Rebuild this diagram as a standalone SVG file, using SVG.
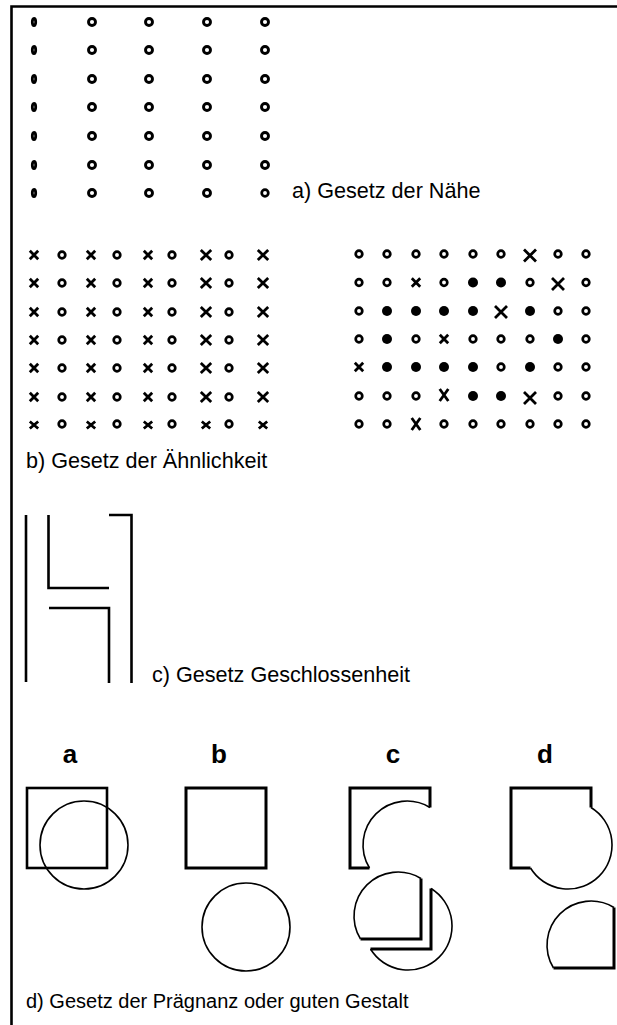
<svg xmlns="http://www.w3.org/2000/svg" width="617" height="1025" viewBox="0 0 617 1025">
<style>
.t{font-family:"Liberation Sans",Arial,sans-serif;font-size:21.6px;fill:#000}
.t2{font-family:"Liberation Sans",Arial,sans-serif;font-size:20px;fill:#000}
.l{font-family:"Liberation Sans",Arial,sans-serif;font-size:26px;font-weight:bold;fill:#000;text-anchor:middle}
.ln{fill:none;stroke:#000;stroke-width:2.6}
.ln3{fill:none;stroke:#000;stroke-width:3}
.arc{fill:none;stroke:#000;stroke-width:1.6}
</style>
<defs>
<circle id="o" r="3.5" fill="none" stroke="#000" stroke-width="2.9"/>
<circle id="os" r="3.3" fill="none" stroke="#000" stroke-width="2.7"/>
<ellipse id="o0" rx="1.7" ry="3.7" fill="none" stroke="#000" stroke-width="2.8"/>
<circle id="dot" r="5" fill="#000"/>
<path id="xs" d="M-4.2,-4.2L4.2,4.2M4.2,-4.2L-4.2,4.2" fill="none" stroke="#000" stroke-width="2.8"/>
<path id="xf" d="M-4.2,-3.5L4.2,3.5M4.2,-3.5L-4.2,3.5" fill="none" stroke="#000" stroke-width="2.8"/>
<path id="xm" d="M-5.2,-5L5.2,5M5.2,-5L-5.2,5" fill="none" stroke="#000" stroke-width="2.8"/>
<path id="xt" d="M-4.3,-6L4.3,6M4.3,-6L-4.3,6" fill="none" stroke="#000" stroke-width="2.8"/>
<path id="xl" d="M-6,-6L6,6M6,-6L-6,6" fill="none" stroke="#000" stroke-width="2.8"/>
</defs>

<g id="frame">
<path d="M11.5 1025V6.5H617" class="ln"/>
</g>

<g id="section-a">
<use href="#o0" x="34" y="22"/><use href="#o" x="92" y="22"/><use href="#o" x="149" y="22"/><use href="#o" x="207" y="22"/><use href="#o" x="265" y="22"/>
<use href="#o0" x="34" y="50"/><use href="#o" x="92" y="50"/><use href="#o" x="149" y="50"/><use href="#o" x="207" y="50"/><use href="#o" x="265" y="50"/>
<use href="#o0" x="34" y="79"/><use href="#o" x="92" y="79"/><use href="#o" x="149" y="79"/><use href="#o" x="207" y="79"/><use href="#o" x="265" y="79"/>
<use href="#o0" x="34" y="107"/><use href="#o" x="92" y="107"/><use href="#o" x="149" y="107"/><use href="#o" x="207" y="107"/><use href="#o" x="265" y="107"/>
<use href="#o0" x="34" y="136"/><use href="#o" x="92" y="136"/><use href="#o" x="149" y="136"/><use href="#o" x="207" y="136"/><use href="#o" x="265" y="136"/>
<use href="#o0" x="34" y="165"/><use href="#o" x="92" y="165"/><use href="#o" x="149" y="165"/><use href="#o" x="207" y="165"/><use href="#o" x="265" y="165"/>
<use href="#o0" x="34" y="193"/><use href="#o" x="92" y="193"/><use href="#o" x="149" y="193"/><use href="#o" x="207" y="193"/><use href="#os" x="265" y="193"/>
<text class="t" x="292" y="198">a) Gesetz der Nähe</text>
</g>

<g id="section-b-left">
<g id="bl-r1"><use href="#xs" x="34" y="255"/><use href="#os" x="62" y="255"/><use href="#xs" x="91" y="255"/><use href="#os" x="117" y="255"/><use href="#xs" x="148" y="255"/><use href="#os" x="172" y="255"/><use href="#xm" x="206" y="255"/><use href="#os" x="229" y="255"/><use href="#xm" x="263" y="255"/></g>
<g id="bl-r2"><use href="#xs" x="34" y="283"/><use href="#os" x="62" y="283"/><use href="#xs" x="91" y="283"/><use href="#os" x="117" y="283"/><use href="#xs" x="148" y="283"/><use href="#os" x="172" y="283"/><use href="#xm" x="206" y="283"/><use href="#os" x="229" y="283"/><use href="#xm" x="263" y="283"/></g>
<g id="bl-r3"><use href="#xs" x="34" y="312"/><use href="#os" x="62" y="312"/><use href="#xs" x="91" y="312"/><use href="#os" x="117" y="312"/><use href="#xs" x="148" y="312"/><use href="#os" x="172" y="312"/><use href="#xm" x="206" y="312"/><use href="#os" x="229" y="312"/><use href="#xm" x="263" y="312"/></g>
<g id="bl-r4"><use href="#xs" x="34" y="340"/><use href="#os" x="62" y="340"/><use href="#xs" x="91" y="340"/><use href="#os" x="117" y="340"/><use href="#xs" x="148" y="340"/><use href="#os" x="172" y="340"/><use href="#xm" x="206" y="340"/><use href="#os" x="229" y="340"/><use href="#xm" x="263" y="340"/></g>
<g id="bl-r5"><use href="#xs" x="34" y="368"/><use href="#os" x="62" y="368"/><use href="#xs" x="91" y="368"/><use href="#os" x="117" y="368"/><use href="#xs" x="148" y="368"/><use href="#os" x="172" y="368"/><use href="#xm" x="206" y="368"/><use href="#os" x="229" y="368"/><use href="#xm" x="263" y="368"/></g>
<g id="bl-r6"><use href="#xs" x="34" y="397"/><use href="#os" x="62" y="397"/><use href="#xs" x="91" y="397"/><use href="#os" x="117" y="397"/><use href="#xs" x="148" y="397"/><use href="#os" x="172" y="397"/><use href="#xm" x="206" y="397"/><use href="#os" x="229" y="397"/><use href="#xm" x="263" y="397"/></g>
<g id="bl-r7"><use href="#xf" x="34" y="425"/><use href="#os" x="62" y="424"/><use href="#xf" x="91" y="425"/><use href="#os" x="117" y="424"/><use href="#xf" x="148" y="425"/><use href="#os" x="172" y="424"/><use href="#xf" x="206" y="425"/><use href="#os" x="229" y="424"/><use href="#xf" x="263" y="425"/></g>
<text class="t" x="26" y="468">b) Gesetz der Ähnlichkeit</text>
</g>

<g id="section-b-right">
<g id="br-r1"><use href="#os" x="359" y="254"/><use href="#os" x="387" y="254"/><use href="#os" x="416" y="254"/><use href="#os" x="444" y="254"/><use href="#os" x="473" y="254"/><use href="#os" x="501" y="254"/><use href="#xl" x="530" y="255.5"/><use href="#os" x="558" y="254"/><use href="#os" x="586" y="254"/></g>
<g id="br-r2"><use href="#os" x="359" y="282.5"/><use href="#os" x="387" y="282.5"/><use href="#xs" x="416" y="282.5"/><use href="#os" x="444" y="282.5"/><use href="#dot" x="473" y="282.5"/><use href="#dot" x="501" y="282.5"/><use href="#os" x="530" y="282.5"/><use href="#xl" x="558" y="284"/><use href="#os" x="586" y="282.5"/></g>
<g id="br-r3"><use href="#os" x="359" y="311"/><use href="#dot" x="387" y="311"/><use href="#dot" x="416" y="311"/><use href="#dot" x="444" y="311"/><use href="#dot" x="473" y="311"/><use href="#xl" x="501" y="312"/><use href="#dot" x="530" y="311"/><use href="#os" x="558" y="311"/><use href="#os" x="586" y="311"/></g>
<g id="br-r4"><use href="#os" x="359" y="339"/><use href="#dot" x="387" y="339"/><use href="#os" x="416" y="339"/><use href="#xs" x="444" y="339"/><use href="#os" x="473" y="339"/><use href="#os" x="501" y="339"/><use href="#os" x="530" y="339"/><use href="#dot" x="558" y="339"/><use href="#os" x="586" y="339"/></g>
<g id="br-r5"><use href="#xs" x="359" y="367"/><use href="#dot" x="387" y="367"/><use href="#dot" x="416" y="367"/><use href="#dot" x="444" y="367"/><use href="#dot" x="473" y="367"/><use href="#os" x="501" y="367"/><use href="#dot" x="530" y="367"/><use href="#os" x="558" y="367"/><use href="#os" x="586" y="367"/></g>
<g id="br-r6"><use href="#os" x="359" y="396"/><use href="#os" x="387" y="396"/><use href="#os" x="416" y="396"/><use href="#xt" x="444" y="395"/><use href="#dot" x="473" y="396"/><use href="#dot" x="501" y="396"/><use href="#xl" x="530" y="398"/><use href="#os" x="558" y="396"/><use href="#os" x="586" y="396"/></g>
<g id="br-r7"><use href="#os" x="359" y="424"/><use href="#os" x="387" y="424"/><use href="#xt" x="416" y="424"/><use href="#os" x="444" y="424"/><use href="#os" x="473" y="424"/><use href="#os" x="501" y="424"/><use href="#os" x="530" y="424"/><use href="#os" x="558" y="424"/><use href="#os" x="586" y="424"/></g>
</g>

<g id="section-c">
<path d="M26 515V682" class="ln"/>
<path d="M48.5 515V588H109" class="ln"/>
<path d="M49 608H109V683" class="ln"/>
<path d="M109 515H131.5V683" class="ln"/>
<text class="t" x="152" y="682">c) Gesetz Geschlossenheit</text>
</g>

<g id="section-d">
<g id="fig-a">
<text class="l" x="70" y="763">a</text>
<rect x="27" y="788" width="80" height="80" class="ln"/>
<circle cx="84" cy="845" r="44" class="arc"/>
</g>
<g id="fig-b">
<text class="l" x="219" y="763">b</text>
<rect x="186" y="788" width="80" height="80" class="ln3"/>
<circle cx="246" cy="927" r="44" class="arc"/>
</g>
<g id="fig-c">
<text class="l" x="393" y="763">c</text>
<path d="M430 807.5V788H350V868H369.5" class="ln3"/>
<path d="M369.5 868A44 44 0 0 1 430 807.5" class="arc"/>
<path d="M421 878.5V939H360.5" class="ln3"/>
<path d="M360.5 939A44 44 0 0 1 421 878.5" class="arc"/>
<path d="M431 888.5V949H370.5" class="ln3"/>
<path d="M431 888.5A44 44 0 1 1 370.5 949" class="arc"/>
</g>
<g id="fig-d">
<text class="l" x="545" y="763">d</text>
<path d="M591 807.5V788H511V868H530.5" class="ln3"/>
<path d="M591 807.5A44 44 0 1 1 530.5 868" class="arc"/>
<path d="M614 907.5V968H553.5" class="ln3"/>
<path d="M553.5 968A44 44 0 0 1 614 907.5" class="arc"/>
</g>
<text class="t2" x="26" y="1008">d) Gesetz der Prägnanz oder guten Gestalt</text>
</g>
</svg>
